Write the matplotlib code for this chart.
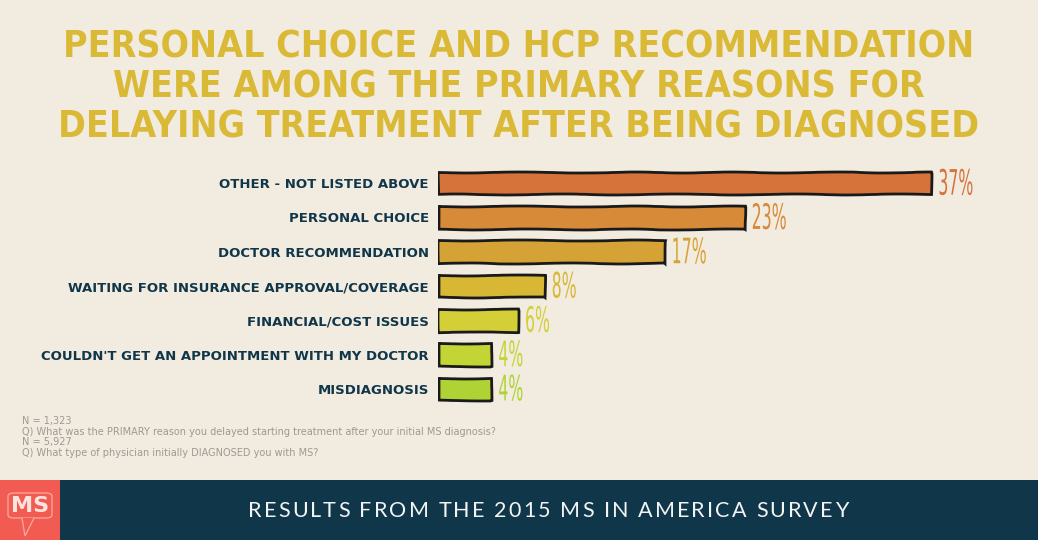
import matplotlib.pyplot as plt
from matplotlib.patches import Rectangle, FancyBboxPatch, Polygon, PathPatch
from matplotlib.textpath import TextPath, TextToPath
from matplotlib.font_manager import FontProperties
from matplotlib.transforms import Affine2D, IdentityTransform

# data
categories = ["OTHER - NOT LISTED ABOVE", "PERSONAL CHOICE", "DOCTOR RECOMMENDATION",
              "WAITING FOR INSURANCE APPROVAL/COVERAGE", "FINANCIAL/COST ISSUES",
              "COULDN'T GET AN APPOINTMENT WITH MY DOCTOR", "MISDIAGNOSIS"]
values = [37, 23, 17, 8, 6, 4, 4]
bar_colors = ["#d5733a", "#d78a38", "#d5a335", "#d7b733", "#d4cf36", "#c3d535", "#afd235"]

title_lines = ["PERSONAL CHOICE AND HCP RECOMMENDATION",
               "WERE AMONG THE PRIMARY REASONS FOR",
               "DELAYING TREATMENT AFTER BEING DIAGNOSED"]
notes = ["N = 1,323",
         "Q) What was the PRIMARY reason you delayed starting treatment after your initial MS diagnosis?",
         "N = 5,927",
         "Q) What type of physician initially DIAGNOSED you with MS?"]
banner = "RESULTS FROM THE 2015 MS IN AMERICA SURVEY"

W, H = 1038, 540
bg = "#f2ebdf"
navy = "#10364a"

fig = plt.figure(figsize=(W / 100, H / 100), dpi=100, facecolor=bg)

def fx(px):
    return px / W

def fy(py):
    return 1 - py / H

# title, one text per line (baselines)
for line, base in zip(title_lines, [57, 98, 137]):
    fig.text(fx(519), fy(base), line, ha="center", va="baseline", color="#d9b935",
             fontsize=26.8, fontweight="bold", family="DejaVu Sans", fontstretch="condensed")

# bars
ax = fig.add_axes([fx(438), fy(406), fx(W - 438), 240 / H])
ax.set_facecolor("none")
ypos = list(range(len(categories)))
bars = ax.barh(ypos, values, height=0.66, color=bar_colors, edgecolor="#1a1a1a", linewidth=2)
for b in bars:
    b.set_sketch_params(scale=0.5, length=150, randomness=4)
ax.set_xlim(0, 45)
ax.set_ylim(len(categories) - 0.5, -0.5)
ax.set_yticks(ypos)
ax.set_yticklabels(categories, fontsize=9.5, fontweight="bold", color=navy)
ax.tick_params(axis="y", length=0, pad=6.5)
ax.set_xticks([])
for s in ax.spines.values():
    s.set_visible(False)

# value labels: tall, narrow digits (squeezed text paths, in pixels)
pct_prop = FontProperties(family="DejaVu Sans", stretch="condensed")
for i, v in enumerate(values):
    tp = TextPath((0, 0), f"{v}%", size=35, prop=pct_prop)
    x0, y0 = ax.transData.transform((v, i))
    tr = Affine2D().scale(0.5, 1.0).translate(x0 + 7, y0 - 11.5)
    fig.add_artist(PathPatch(tr.transform_path(tp), transform=IdentityTransform(),
                             facecolor=bar_colors[i], edgecolor="none"))

# footnotes
for k, line in enumerate(notes):
    fig.text(fx(22), fy(421 + k * 10.7), line, ha="left", va="center",
             fontsize=7.05, color="#9c9a94")

# banner
fig.patches.append(Rectangle((0, 0), 1, fy(480), transform=fig.transFigure,
                             facecolor=navy, edgecolor="none", zorder=0))
fig.patches.append(Rectangle((0, 0), fx(60), fy(480), transform=fig.transFigure,
                             facecolor="#f15b52", edgecolor="none", zorder=0))
fig.patches.append(FancyBboxPatch((fx(8), fy(518)), fx(44), fy(493) - fy(518),
                                  boxstyle="round,pad=0,rounding_size=0.006",
                                  transform=fig.transFigure, facecolor="none",
                                  edgecolor="#f7a39c", linewidth=1, zorder=1))
fig.patches.append(Polygon([(fx(22), fy(518)), (fx(25), fy(536)), (fx(34), fy(518))],
                           closed=False, transform=fig.transFigure, facecolor="#f15b52",
                           edgecolor="#f7a39c", linewidth=1, zorder=1))
fig.text(fx(30), fy(506), "MS", ha="center", va="center", color="#fde3de",
         fontsize=16, fontweight="bold", zorder=5)

# letter-spaced banner text, placed char by char
ban_prop = FontProperties(family="Lato", weight="normal", size=15.5)
t2p = TextToPath()
def char_w(c):
    w1 = t2p.get_text_width_height_descent("x" + c + "x", ban_prop, ismath=False)[0]
    w0 = t2p.get_text_width_height_descent("xx", ban_prop, ismath=False)[0]
    return (w1 - w0) * 100 / 72
widths = [char_w(c) for c in banner]
target = 600
track = (target - sum(widths)) / (len(banner) - 1)
xpos = 248
for c, w in zip(banner, widths):
    fig.text(fx(xpos), fy(517), c, ha="left", va="baseline", color="#f4f4f4",
             fontproperties=ban_prop, zorder=5)
    xpos += w + track

fig.savefig("out.png", dpi=100, facecolor=bg)
